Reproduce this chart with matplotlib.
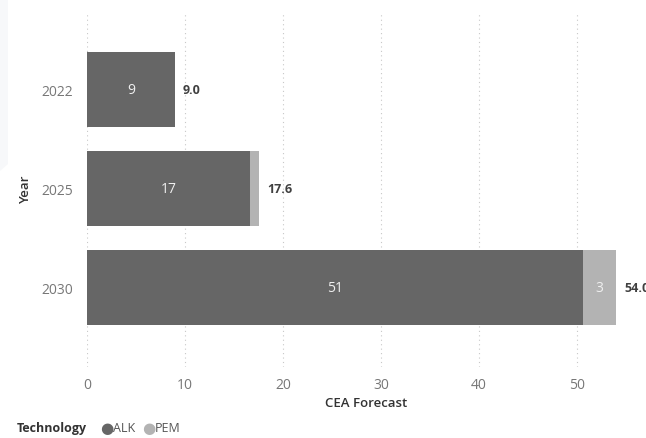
import numpy as np
import matplotlib
matplotlib.use('Agg')
from matplotlib import pyplot as plt
from matplotlib.patches import Polygon

plt.rcParams['font.family'] = ['Open Sans', 'DejaVu Sans']

years = ['2022', '2025', '2030']
alk = [9.0, 16.6, 50.6]
pem = [0.0, 1.0, 3.4]
xticks = [0, 10, 20, 30, 40, 50]

ALK_COL = '#666666'
PEM_COL = '#b3b3b3'

W, H = 646, 439
fig = plt.figure(figsize=(W / 100, H / 100), dpi=100)

# faint panel edge on the left
fig.patches.append(Polygon([(0, 1), (8 / W, 1), (8 / W, 1 - 165 / H), (0, 1 - 172 / H)],
                           closed=True, transform=fig.transFigure,
                           facecolor='#f7f8fa', edgecolor='none', zorder=0))

# axes: x=0 at 87px, 9.8px per unit
left = 87 / W
width = (W - 87) / W
ax = fig.add_axes([left, 1 - 368 / H, width, (368 - 15) / H])

y = np.arange(len(years))
ax.barh(y, alk, height=0.76, color=ALK_COL, zorder=2)
ax.barh(y, pem, left=alk, height=0.76, color=PEM_COL, zorder=2)

ax.set_xlim(0, (W - 87) / 9.8)
ax.set_ylim(2.8, -0.76)

for i in range(len(years)):
    ax.text(alk[i] / 2, y[i], '%d' % round(alk[i] + 1e-9), ha='center', va='center',
            color='#f0f0f0', fontsize=10)
    if pem[i] > 2:
        ax.text(alk[i] + pem[i] / 2, y[i], '%d' % round(pem[i]), ha='center', va='center',
                color='#f0f0f0', fontsize=10)
    total = alk[i] + pem[i]
    ax.text(total + 0.8, y[i], '%.1f' % total, ha='left', va='center',
            color='#404040', fontsize=9, fontweight='bold', clip_on=False)

ax.set_yticks(y)
ax.set_yticklabels(years)
ax.set_xticks(xticks)
ax.tick_params(axis='both', length=0, colors='#777777', labelsize=10)
ax.tick_params(axis='y', pad=10)
ax.tick_params(axis='x', pad=7)
ax.xaxis.grid(True, linestyle=(0, (1, 3)), color='#c8c8c8', linewidth=0.8, zorder=0)
ax.set_axisbelow(True)
for s in ax.spines.values():
    s.set_visible(False)

ax.set_xlabel('CEA Forecast', fontsize=9.5, color='#333333', labelpad=3,
              fontweight='semibold')
fig.text(26 / W, 1 - 190 / H, 'Year', rotation=90, ha='center', va='center',
         fontsize=9.5, color='#333333', fontweight='semibold')

# legend row
ly = 1 - 429 / H
fig.text(17 / W, ly, 'Technology', ha='left', va='center',
         fontsize=9, fontweight='bold', color='#333333')
fig.text(100 / W, ly, '\u25CF', ha='left', va='center', fontsize=11, color=ALK_COL,
         family=['DejaVu Sans'])
fig.text(113 / W, ly, 'ALK', ha='left', va='center', fontsize=9, color='#555555')
fig.text(142 / W, ly, '\u25CF', ha='left', va='center', fontsize=11, color=PEM_COL,
         family=['DejaVu Sans'])
fig.text(155 / W, ly, 'PEM', ha='left', va='center', fontsize=9, color='#555555')

plt.savefig('out.png', dpi=100)
plt.close()
